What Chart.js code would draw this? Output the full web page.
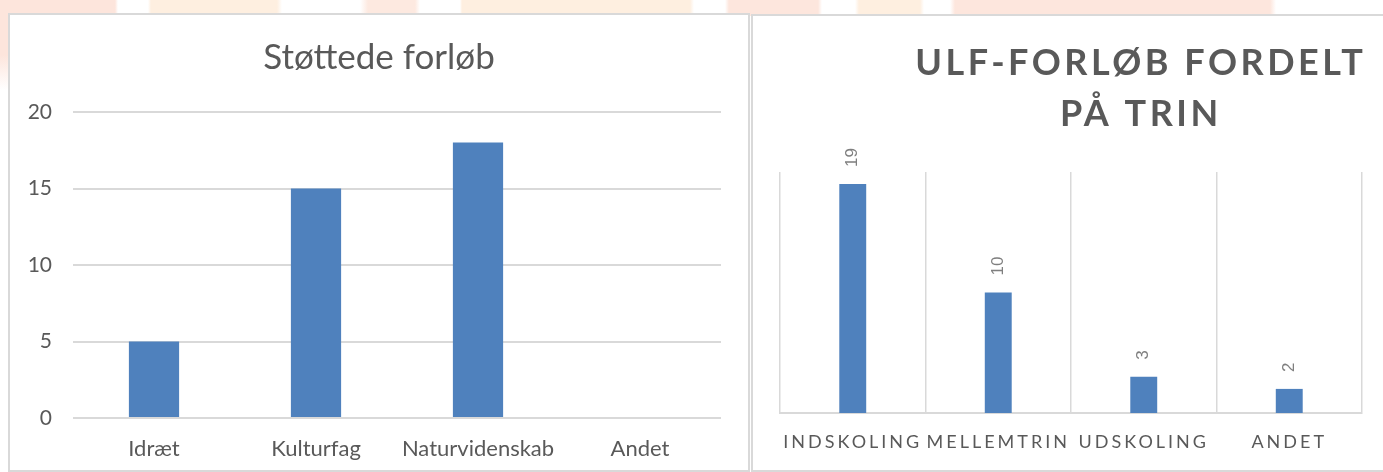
<!DOCTYPE html>
<html>
<head>
<meta charset="utf-8">
<script src="https://cdn.jsdelivr.net/npm/chart.js"></script>
<style>
body{
    margin:0;
    width:1383px;
    height:472px;
    overflow:hidden;
    position:relative;
    background:#fff;
}
#baggrund{
    position:absolute;left:0;top:0;width:1383px;height:16px;
    background:linear-gradient(90deg,#fde5dc 0px,#fde5dc 115px,#fff 118px,#fff 148px,#feefe0 151px,#feefe0 277px,#fff 282px,#fff 360px,#fde9e0 368px,#fde9e0 415px,#fff 420px,#fff 460px,#feefe0 462px,#feefe0 690px,#fff 694px,#fff 725px,#fde6dd 729px,#fde6dd 818px,#fff 822px,#fff 855px,#feefe0 859px,#feefe0 920px,#fff 924px,#fff 950px,#fde6dd 955px,#fde6dd 1270px,#fff 1276px,#fff 1383px);
}
#kant{
    position:absolute;left:0;top:0;width:8px;height:90px;
    background:linear-gradient(180deg,#fde5dc 0px,#fde5dc 55px,#fff 90px);
}
.panel{
    position:absolute;
    background:#fff;
    border:2px solid #d9d9d9;
}
#p1{left:8px;top:13px;width:738px;height:455px;}
#p2{left:751px;top:14px;width:636px;height:454px;}
</style>
</head>
<body>
<div id="baggrund"></div>
<div id="kant"></div>
<div class="panel" id="p1"><canvas id="graficoVenstre"></canvas></div>
<div class="panel" id="p2"><canvas id="graficoHoejre"></canvas></div>
<script>
var kategorierVenstre = ['Idræt', 'Kulturfag', 'Naturvidenskab', 'Andet'];
var forloebVenstre = [5, 15, 18, 0];
var yTicksVenstre = [0, 5, 10, 15, 20];
var titelVenstre = 'Støttede forløb';

var kategorierHoejre = ['INDSKOLING', 'MELLEMTRIN', 'UDSKOLING', 'ANDET'];
var forloebHoejre = [19, 10, 3, 2];
var titelHoejre = ['ULF-FORLØB FORDELT', 'PÅ TRIN'];

var graa = '#595959';
var blaa = '#4f81bd';

// titel tegnes selv, saa den kan centreres paa panelet og ikke paa plotomraadet
function titelPlugin(linjer, font, afstand, x, ys){
    return {
        id: 'titel',
        afterDraw: function(chart){
            var c = chart.ctx;
            c.save();
            c.letterSpacing = afstand;
            c.fillStyle = graa;
            c.font = font;
            c.textAlign = 'center';
            c.textBaseline = 'middle';
            for (var i = 0; i < linjer.length; i++) {
                c.fillText(linjer[i], x(chart), ys[i]);
            }
            c.restore();
        }
    };
}

function grafVenstre(){
    var ctx = document.getElementById('graficoVenstre');
    new Chart(ctx, {
        type: 'bar',
        data: {
            labels: kategorierVenstre,
            datasets: [{
                data: forloebVenstre,
                backgroundColor: blaa,
                barPercentage: 0.31,
                categoryPercentage: 1
            }]
        },
        options: {
            responsive: true,
            maintainAspectRatio: false,
            animation: false,
            layout: {padding: {left: 0, right: 27, top: 97, bottom: 0}},
            plugins: {
                legend: {display: false},
                tooltip: {enabled: false}
            },
            scales: {
                x: {
                    grid: {display: false, drawTicks: false},
                    border: {display: false},
                    ticks: {color: graa, font: {family: 'Lato', size: 22}, padding: 18, maxRotation: 0},
                    afterFit: function(s){ s.height = 52; }
                },
                y: {
                    min: 0,
                    max: 20,
                    afterBuildTicks: function(s){
                        s.ticks = yTicksVenstre.map(function(v){ return {value: v}; });
                    },
                    grid: {color: '#d9d9d9', lineWidth: 2, drawTicks: false},
                    border: {display: false},
                    ticks: {color: graa, font: {family: 'Lato', size: 21}, padding: 21},
                    afterFit: function(s){ s.width = 63; }
                }
            }
        },
        plugins: [titelPlugin([titelVenstre], '35px Lato', '0px', function(ch){ return ch.width / 2; }, [43])]
    });
}

var bogstavAfstand = {
    id: 'bogstavAfstand',
    beforeDraw: function(chart){ chart.ctx.letterSpacing = '3px'; },
    beforeDatasetsDraw: function(chart){ chart.ctx.letterSpacing = '0px'; }
};

var vaerdiEtiketter = {
    id: 'vaerdiEtiketter',
    afterDatasetsDraw: function(chart){
        var c = chart.ctx;
        var meta = chart.getDatasetMeta(0);
        c.save();
        c.letterSpacing = '0px';
        c.fillStyle = '#7f7f7f';
        c.font = '17px "Liberation Sans"';
        c.textAlign = 'left';
        c.textBaseline = 'middle';
        meta.data.forEach(function(bar, i){
            c.save();
            c.translate(bar.x, bar.y - 17);
            c.rotate(-Math.PI / 2);
            c.fillText(String(forloebHoejre[i]), 0, 0);
            c.restore();
        });
        c.restore();
    }
};

function grafHoejre(){
    var ctx = document.getElementById('graficoHoejre');
    new Chart(ctx, {
        type: 'bar',
        data: {
            labels: kategorierHoejre,
            datasets: [{
                data: forloebHoejre,
                backgroundColor: blaa,
                barPercentage: 0.185,
                categoryPercentage: 1
            }]
        },
        options: {
            responsive: true,
            maintainAspectRatio: false,
            animation: false,
            layout: {padding: {left: 27, right: 27, top: 156, bottom: 0}},
            plugins: {
                legend: {display: false},
                tooltip: {enabled: false}
            },
            scales: {
                x: {
                    grid: {color: '#d9d9d9', lineWidth: 1.5, drawTicks: false},
                    border: {color: '#d9d9d9', width: 2},
                    ticks: {color: graa, font: {family: 'Lato', size: 18}, padding: 18, maxRotation: 0, autoSkip: false},
                    afterFit: function(s){ s.height = 57; }
                },
                y: {
                    display: false,
                    min: 0,
                    max: 20
                }
            }
        },
        plugins: [bogstavAfstand, vaerdiEtiketter,
            titelPlugin(titelHoejre, 'bold 36px Lato', '3.5px', function(ch){ return ch.chartArea.left + ch.chartArea.width * 0.62; }, [47, 98])]
    });
}

grafVenstre();
grafHoejre();
</script>
</body>
</html>
